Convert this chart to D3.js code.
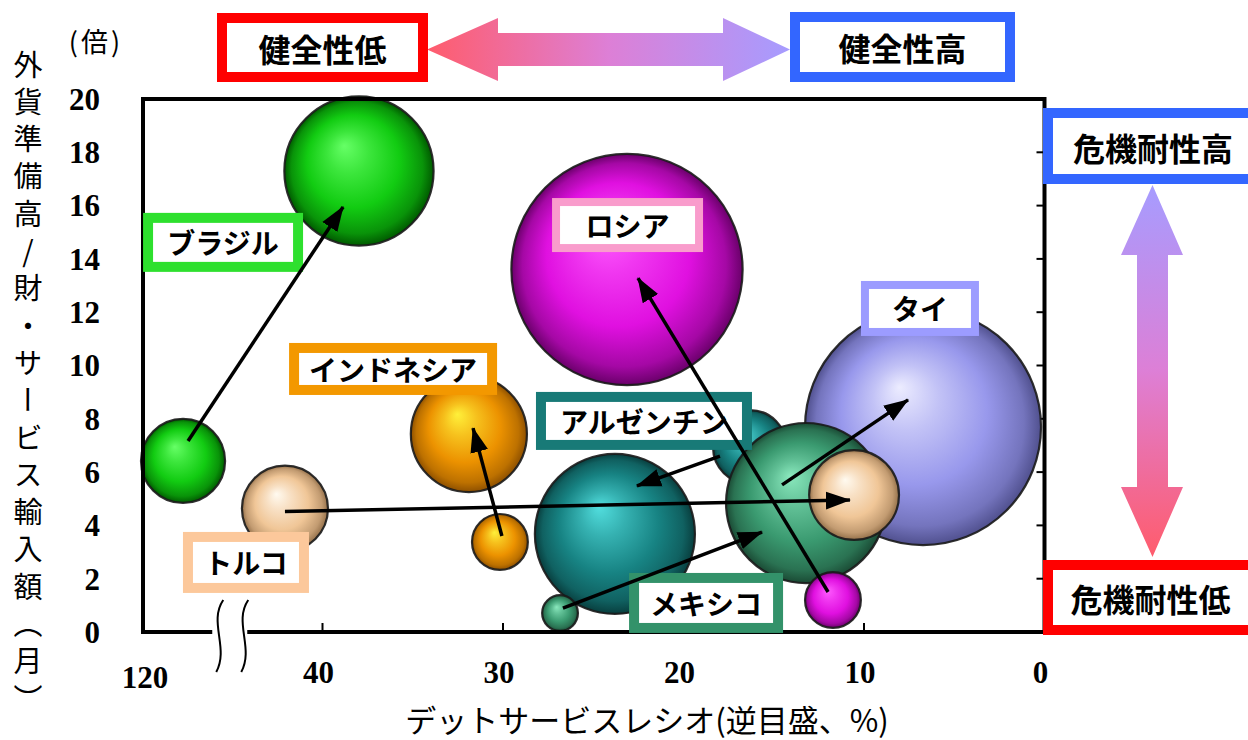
<!DOCTYPE html>
<html><head><meta charset="utf-8">
<script src="https://cdn.jsdelivr.net/npm/d3@7"></script>
<style>body{margin:0;background:#fff} svg{display:block}</style>
</head><body>
<svg id="c" width="1248" height="740"></svg>
<script>
// ---------- data ----------
const countries   = ["ブラジル","インドネシア","トルコ","ロシア","アルゼンチン","メキシコ","タイ"];
// bubbles (drawing order)
const bubbleCountry = ["タイ","ロシア","ブラジル","ブラジル","トルコ","インドネシア","インドネシア","アルゼンチン","アルゼンチン","メキシコ","メキシコ","トルコ","ロシア"];
const bubbleX       = [6.73, 23.13, 37.98, 87.3, 42.08, 31.89, 30.17, 16.32, 23.80, 13.21, 26.84, 10.55, 11.72]; // debt service ratio (%)
const bubbleY       = [7.69, 13.60, 17.30, 6.42, 4.63, 7.43, 3.38, 6.94, 3.68, 4.84, 0.71, 5.14, 1.20];       // months of imports
const bubbleSize    = [100, 96, 40, 12.7, 13.3, 24.2, 5.6, 9.8, 46, 46, 2.3, 14.5, 5.6];
// arrows (from -> to), per country
const arrowCountry = ["ブラジル","インドネシア","トルコ","ロシア","アルゼンチン","メキシコ","タイ"];
const arrowX0 = [83.0, 30.06, 42.08, 11.99, 17.98, 26.68, 14.54];
const arrowY0 = [7.17, 3.60, 4.52, 1.50, 6.60, 0.90, 5.52];
const arrowX1 = [38.86, 31.66, 10.78, 22.52, 22.58, 15.65, 7.56];
const arrowY1 = [15.95, 7.65, 4.95, 13.28, 5.48, 3.75, 8.71];
// country label anchors (data units)
const labelX = [52.9, 36.09, 44.24, 23.10, 22.19, 18.75, 6.90];
const labelY = [14.62, 9.87, 2.61, 15.27, 7.92, 1.09, 12.14];
// ticks
const xTickValues = [120, 40, 30, 20, 10, 0];
const yTickValues = [0, 2, 4, 6, 8, 10, 12, 14, 16, 18, 20];
const yTitle = "外貨準備高/財・サービス輸入額（月）";
const xTitle = "デットサービスレシオ(逆目盛、%)";

// ---------- styles ----------
const bubbleStyle = {
  "ブラジル":   {base:"#12cc12", hl:"#66ff66", dark:"#005a00"},
  "ロシア":     {base:"#e010e0", hl:"#ff5cff", dark:"#6a006a"},
  "タイ":       {base:"#9898ec", hl:"#ececff", dark:"#50508e"},
  "メキシコ":   {base:"#3a9a70", hl:"#8ae8bd", dark:"#1a4a34"},
  "アルゼンチン":{base:"#178383", hl:"#52dede", dark:"#083e3e"},
  "インドネシア":{base:"#ec9200", hl:"#fff03a", dark:"#8e5000"},
  "トルコ":     {base:"#f0c697", hl:"#fffaf0", dark:"#94704a"}
};
const labelStyle = {
  "ブラジル":   {stroke:"#2ee02e", w:160, h:59, sw:10},
  "インドネシア":{stroke:"#f39800", w:208, h:52, sw:10},
  "トルコ":     {stroke:"#fcc89b", w:126, h:61, sw:10},
  "ロシア":     {stroke:"#f99ccc", w:151, h:54, sw:8},
  "アルゼンチン":{stroke:"#187a77", w:216, h:58, sw:10},
  "メキシコ":   {stroke:"#33926a", w:154, h:60, sw:10},
  "タイ":       {stroke:"#9c9cff", w:118, h:55, sw:8}
};

const svg = d3.select("#c");
svg.append("rect").attr("width",1248).attr("height",740).attr("fill","#fff");
const defs = svg.append("defs");

// ---------- scales ----------
const X_BREAK = 45;
const x = d3.scaleLinear().domain([120, X_BREAK, 0]).range([145, 232.25, 1044.5]);
const y = d3.scaleLinear().domain([0, 20]).range([632, 99]);
const r = d3.scaleSqrt().domain([0, 100]).range([0, 118]);

const L = 143, R = x(0), T = y(20), B = y(0);
const serif = "'Liberation Serif','DejaVu Serif',serif";
const jp = "'Noto Sans CJK JP','Noto Sans CJK SC',sans-serif";

// ---------- gradients ----------
Object.entries(bubbleStyle).forEach(([k, s], i) => {
  const g = defs.append("radialGradient").attr("id", "bg" + i)
    .attr("cx", 0.5).attr("cy", 0.5).attr("r", 0.5).attr("fx", 0.4).attr("fy", 0.33);
  const mid = d3.interpolateRgb(s.hl, s.base)(0.5);
  [[0, s.hl],[0.28, mid],[0.62, s.base],[0.88, d3.interpolateRgb(s.base, s.dark)(0.5)],[1, s.dark]]
    .forEach(([o, c]) => g.append("stop").attr("offset", o).attr("stop-color", c));
  s.id = "bg" + i;
});
const hg = defs.append("linearGradient").attr("id","hgrad").attr("x1",0).attr("x2",1).attr("y1",0).attr("y2",0);
[[0,"#ff5c6c"],[0.5,"#dd7fd6"],[1,"#a69cff"]].forEach(([o,c])=>hg.append("stop").attr("offset",o).attr("stop-color",c));
const vg = defs.append("linearGradient").attr("id","vgrad").attr("x1",0).attr("x2",0).attr("y1",0).attr("y2",1);
[[0,"#a69cff"],[0.5,"#dd7fd6"],[1,"#ff5c6c"]].forEach(([o,c])=>vg.append("stop").attr("offset",o).attr("stop-color",c));
defs.append("marker").attr("id","ah").attr("markerUnits","userSpaceOnUse")
  .attr("markerWidth",26).attr("markerHeight",20).attr("refX",24).attr("refY",10).attr("orient","auto")
  .append("path").attr("d","M0,1 L25,10 L0,19 Z").attr("fill","#000");

// ---------- ticks (under bubbles) ----------
svg.append("g").selectAll("line").data(xTickValues.filter(v => v <= 40 && v > 0)).join("line")
  .attr("x1", d => x(d)).attr("x2", d => x(d)).attr("y1", B).attr("y2", B - 9)
  .attr("stroke", "#000").attr("stroke-width", 2);
svg.append("g").selectAll("line").data(yTickValues.filter(v => v > 0 && v < 20)).join("line")
  .attr("x1", R).attr("x2", R - 8).attr("y1", d => y(d)).attr("y2", d => y(d))
  .attr("stroke", "#000").attr("stroke-width", 2);

// ---------- bubbles ----------
const bubbles = bubbleCountry.map((c, i) => ({c, x: bubbleX[i], y: bubbleY[i], s: bubbleSize[i]}));
svg.append("g").selectAll("circle").data(bubbles).join("circle")
  .attr("cx", d => x(d.x)).attr("cy", d => y(d.y)).attr("r", d => r(d.s))
  .attr("fill", d => `url(#${bubbleStyle[d.c].id})`)
  .attr("stroke", "#1a1a1a").attr("stroke-width", 2.2).attr("stroke-opacity", 0.9);

// ---------- frame ----------
const bx = x(X_BREAK);
const frame = svg.append("g").attr("fill","none").attr("stroke","#000").attr("stroke-width",4);
frame.append("path").attr("d", `M${L},${B+2} L${L},${T} L${R},${T} L${R},${B+2}`);
frame.append("path").attr("d", `M${L-2},${B} L${bx-20},${B} M${bx+15},${B} L${R+2},${B}`);
const waves = svg.append("g").attr("fill","none").attr("stroke","#000").attr("stroke-width",2);
[bx - 18, bx + 7].forEach(x0 => {
  waves.append("path").attr("d", `M${x0+9},600 C${x0-6},622 ${x0+15},648 ${x0+2},672`);
});

// ---------- axis labels ----------
svg.append("g").selectAll("text").data(yTickValues).join("text")
  .attr("x", 100).attr("y", d => y(d)).attr("dy", "0.35em").attr("text-anchor", "end")
  .attr("font-family", serif).attr("font-weight", 700).attr("font-size", 31).text(d => d);
svg.append("g").selectAll("text").data(xTickValues).join("text")
  .attr("x", d => x(d) - (d === 120 ? 0 : 4)).attr("y", d => d === 120 ? 677 : 672).attr("dy", "0.35em")
  .attr("text-anchor", "middle")
  .attr("font-family", serif).attr("font-weight", 700).attr("font-size", 31).text(d => d);
svg.append("text").attr("x", 96).attr("y", 43).attr("dy","0.35em").attr("text-anchor","middle")
  .attr("font-family", jp).attr("font-size", 27).text("(倍)").attr("letter-spacing", 3);
svg.append("text").attr("x", 28).attr("y", 50)
  .attr("font-family", jp).attr("font-size", 29)
  .style("writing-mode", "vertical-rl").style("text-orientation", "upright")
  .attr("letter-spacing", 8.3)
  .text(yTitle);
svg.append("text").attr("x", 647).attr("y", 718).attr("dominant-baseline","central").attr("text-anchor","middle")
  .attr("font-family", jp).attr("font-size", 31).text(xTitle);

// ---------- country labels ----------
const lg = svg.append("g");
countries.forEach((c, i) => {
  const st = labelStyle[c], cx = x(labelX[i]), cy = y(labelY[i]);
  lg.append("rect").attr("x", cx - st.w/2 + st.sw/2).attr("y", cy - st.h/2 + st.sw/2)
    .attr("width", st.w - st.sw).attr("height", st.h - st.sw)
    .attr("fill", "#fff").attr("stroke", st.stroke).attr("stroke-width", st.sw);
  lg.append("text").attr("x", cx).attr("y", cy).attr("dominant-baseline","central").attr("text-anchor","middle")
    .attr("font-family", jp).attr("font-weight", 700).attr("font-size", 28).text(c);
});

// ---------- arrows ----------
svg.append("g").selectAll("line").data(arrowCountry).join("line")
  .attr("x1", (d, i) => x(arrowX0[i])).attr("y1", (d, i) => y(arrowY0[i]))
  .attr("x2", (d, i) => x(arrowX1[i])).attr("y2", (d, i) => y(arrowY1[i]))
  .attr("stroke", "#000").attr("stroke-width", 3.5).attr("marker-end", "url(#ah)");

// ---------- header annotations ----------
function box(x0, y0, x1, y1, color, label, tx, ty) {
  const sw = 10;
  svg.append("rect").attr("x", x0 + sw/2).attr("y", y0 + sw/2).attr("width", x1 - x0 - sw).attr("height", y1 - y0 - sw)
    .attr("fill", "#fff").attr("stroke", color).attr("stroke-width", sw);
  svg.append("text").attr("x", tx).attr("y", ty).attr("dominant-baseline","central").attr("text-anchor","middle")
    .attr("font-family", jp).attr("font-weight", 700).attr("font-size", 32).text(label);
}
// horizontal double arrow
svg.append("path").attr("fill","url(#hgrad)").attr("d",
  "M427,49.5 L498,18 L498,33 L723,33 L723,18 L790,49.5 L723,81 L723,66 L498,66 L498,81 Z");
// vertical double arrow
svg.append("path").attr("fill","url(#vgrad)").attr("d",
  "M1152.5,185 L1183,255 L1168,255 L1168,487 L1183,487 L1152.5,557 L1121,487 L1137,487 L1137,255 L1121,255 Z");
box(217, 13, 428, 82, "#ff0000", "健全性低", 322.5, 47.5);
box(790, 12, 1015, 82, "#3366ff", "健全性高", 902.5, 47);
box(1043, 108, 1262, 184, "#3366ff", "危機耐性高", 1153, 147);
box(1043, 560, 1262, 635, "#ff0000", "危機耐性低", 1150.5, 598);
</script>
</body></html>
